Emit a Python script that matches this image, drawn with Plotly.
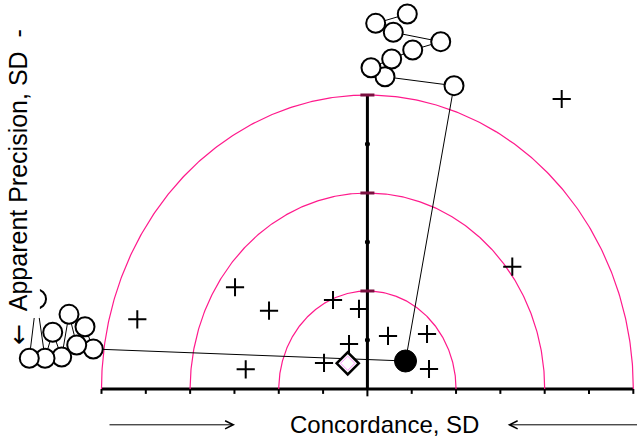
import numpy as np
import plotly.graph_objects as go

# ---- data (in SD units) ----
arc_radii = [2, 4, 6]
x_ticks = list(range(-6, 7))
y_ticks = [1, 2, 3, 4, 5, 6]

center_x = [0.86]
center_y = [0.571]

ref_x = [-0.444]
ref_y = [0.524]

top_chain_x = [1.954, 0.397, 0.081, 0.548, 1.022, 1.654, 0.584, 0.187, 0.900]
top_chain_y = [6.190, 6.373, 6.557, 6.735, 6.918, 7.088, 7.280, 7.463, 7.653]

left_chain_x = [-6.185, -6.372, -6.559, -6.733, -6.898, -7.101, -7.274, -7.466, -7.629]
left_chain_y = [0.816, 1.271, 0.898, 1.524, 0.653, 1.157, 0.627, 1.837, 0.627]

cross_x = [4.384, 3.269, -5.192, -2.987, -2.220, -2.746, -0.776, -0.190, 0.465, 1.345, -0.415, -0.979, 1.390]
cross_y = [5.918, 2.496, 1.422, 2.076, 1.598, 0.402, 1.816, 1.633, 1.082, 1.122, 0.918, 0.531, 0.408]

x_title = "Concordance, SD"
y_title = "<span style='font-family:DejaVu Sans'>\u2190</span>  Apparent Precision, SD  -"

PINK = "#ff1a8c"
FONT = "Liberation Sans, Arial, sans-serif"

fig = go.Figure()

# arcs
th = np.linspace(0, np.pi, 361)
for r in arc_radii:
    fig.add_trace(go.Scatter(x=r * np.cos(th), y=r * np.sin(th), mode="lines",
                             line=dict(color=PINK, width=1.2), hoverinfo="skip"))

# connection lines
fig.add_trace(go.Scatter(x=center_x + top_chain_x, y=center_y + top_chain_y, mode="lines",
                         line=dict(color="black", width=1), hoverinfo="skip"))
fig.add_trace(go.Scatter(x=center_x + left_chain_x, y=center_y + left_chain_y, mode="lines",
                         line=dict(color="black", width=1), hoverinfo="skip"))

# crosses
fig.add_trace(go.Scatter(x=cross_x, y=cross_y, mode="markers",
                         marker=dict(symbol="cross-thin", size=13,
                                     line=dict(color="black", width=2)), hoverinfo="skip"))

# open circles
fig.add_trace(go.Scatter(x=top_chain_x + left_chain_x, y=top_chain_y + left_chain_y, mode="markers",
                         marker=dict(symbol="circle", size=19, color="white",
                                     line=dict(color="black", width=2)), hoverinfo="skip"))

# reference diamond
fig.add_trace(go.Scatter(x=ref_x, y=ref_y, mode="markers",
                         marker=dict(symbol="diamond", size=17, color="white",
                                     line=dict(color="black", width=2.5)), hoverinfo="skip"))
fig.add_trace(go.Scatter(x=ref_x, y=ref_y, mode="markers",
                         marker=dict(symbol="diamond-open", size=11,
                                     line=dict(color="black", width=1)), hoverinfo="skip"))

# filled circle
fig.add_trace(go.Scatter(x=center_x, y=center_y, mode="markers",
                         marker=dict(symbol="circle", size=22, color="black",
                                     line=dict(color="black", width=1)), hoverinfo="skip"))

# vertical axis ticks
odd = [t for t in y_ticks if t % 2 == 1]
even = [t for t in y_ticks if t % 2 == 0]
fig.add_trace(go.Scatter(x=[0] * len(odd), y=odd, mode="markers",
                         marker=dict(symbol="circle", size=5, color="black"),
                         hoverinfo="skip"))
fig.add_trace(go.Scatter(x=[0] * len(even), y=even, mode="markers",
                         marker=dict(symbol="line-ew", size=10, line=dict(color="#7a1040", width=3)),
                         hoverinfo="skip"))

shapes = []
# horizontal axis
shapes.append(dict(type="line", x0=x_ticks[0], x1=x_ticks[-1], y0=0, y1=0,
                   line=dict(color="black", width=3), layer="below"))
for t in x_ticks:
    shapes.append(dict(type="line", x0=t, x1=t, y0=0, y1=-0.15 if t == 0 else -0.1,
                       line=dict(color="black", width=2), layer="below"))
# vertical axis
shapes.append(dict(type="line", x0=0, x1=0, y0=0, y1=y_ticks[-1],
                   line=dict(color="black", width=3), layer="below"))
# white cover behind the y title
shapes.append(dict(type="rect", x0=-8.4, x1=-7.39, y0=1.449, y1=8.2,
                   fillcolor="white", line=dict(width=0), layer="above"))
fig.update_layout(shapes=shapes)

ann = []
ann.append(dict(x=0.386, y=-0.72, xref="x", yref="y", text=x_title, showarrow=False,
                font=dict(family=FONT, size=24, color="black"), xanchor="center", yanchor="middle"))
ann.append(dict(x=-7.86, y=4.13, xref="x", yref="y", text=y_title, showarrow=False, textangle=-90,
                font=dict(family=FONT, size=25, color="black"), xanchor="center", yanchor="middle"))
# arrows
ann.append(dict(x=-2.987, y=-0.731, ax=-5.853, ay=-0.731, xref="x", yref="y", axref="x", ayref="y",
                text="", showarrow=True, arrowhead=5, arrowsize=1.6, arrowwidth=1, arrowcolor="black"))
ann.append(dict(x=3.166, y=-0.731, ax=6.2, ay=-0.731, xref="x", yref="y", axref="x", ayref="y",
                text="", showarrow=True, arrowhead=5, arrowsize=1.6, arrowwidth=1, arrowcolor="black"))
fig.update_layout(annotations=ann)

fig.update_layout(
    width=637, height=437, margin=dict(l=0, r=0, t=0, b=0),
    paper_bgcolor="white", plot_bgcolor="white", showlegend=False,
    xaxis=dict(range=[-8.290, 6.083], visible=False, fixedrange=True),
    yaxis=dict(range=[-0.980, 7.939], visible=False, fixedrange=True),
)

fig.write_html("out.html", config={"displayModeBar": False},
               post_script="document.body.style.margin='0';document.body.style.overflow='hidden';")
